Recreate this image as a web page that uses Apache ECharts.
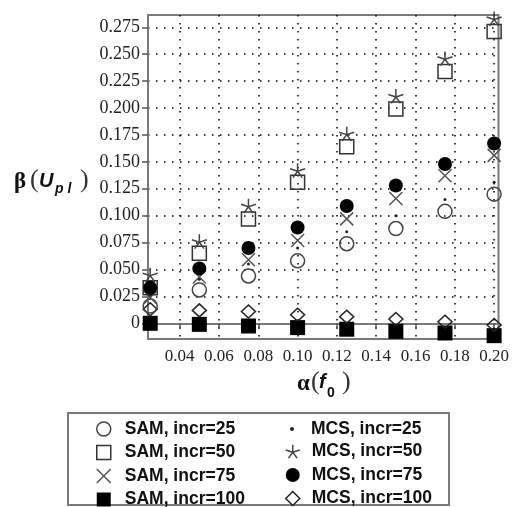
<!DOCTYPE html>
<html><head><meta charset="utf-8">
<script src="https://cdn.jsdelivr.net/npm/echarts@6/dist/echarts.min.js"></script>
<style>html,body{margin:0;padding:0;background:#fff;}#c{width:512px;height:507px;}</style>
</head><body><div id="c"></div>
<script>
const xValues = [0.025, 0.05, 0.075, 0.1, 0.125, 0.15, 0.175, 0.2];
const samIncr25 = [0.016, 0.031, 0.044, 0.058, 0.074, 0.088, 0.104, 0.120];
const samIncr50 = [0.033, 0.065, 0.097, 0.131, 0.164, 0.199, 0.234, 0.271];
const samIncr75 = [0.024, 0.043, 0.059, 0.077, 0.097, 0.116, 0.137, 0.156];
const samIncr100 = [0, -0.001, -0.0025, -0.004, -0.0055, -0.0075, -0.009, -0.0115];
const mcsIncr25 = [0.026, 0.041, 0.055, 0.070, 0.085, 0.100, 0.115, 0.131];
const mcsIncr50 = [0.045, 0.076, 0.109, 0.142, 0.176, 0.211, 0.246, 0.283];
const mcsIncr75 = [0.033, 0.051, 0.070, 0.089, 0.109, 0.128, 0.148, 0.167];
const mcsIncr100 = [0.013, 0.012, 0.011, 0.008, 0.006, 0.004, 0.0015, -0.0015];
const yTicks = [0, 0.025, 0.05, 0.075, 0.1, 0.125, 0.15, 0.175, 0.2, 0.225, 0.25, 0.275];
const xTicks = [0.04, 0.06, 0.08, 0.1, 0.12, 0.14, 0.16, 0.18, 0.2];
const names = {
  s25: 'SAM, incr=25', s50: 'SAM, incr=50', s75: 'SAM, incr=75', s100: 'SAM, incr=100',
  m25: 'MCS, incr=25', m50: 'MCS, incr=50', m75: 'MCS, incr=75', m100: 'MCS, incr=100'
};

const pairs = arr => xValues.map((x, i) => [x, arr[i]]);
const CROSS = 'path://M0,0L10,10M10,0L0,10';
const STAR = 'path://M0,0L0,-10M0,0L9.51,-3.09M0,0L5.88,8.09M0,0L-5.88,8.09M0,0L-9.51,-3.09';
const open = (c) => ({color: 'rgba(0,0,0,0)', borderColor: c, borderWidth: 1.5, opacity: 1});

function sc(name, data, symbol, size, itemStyle, z) {
  return {type: 'scatter', name, data: pairs(data), symbol, symbolSize: size, symbolKeepAspect: true,
    itemStyle: {opacity: 1, ...itemStyle}, z, clip: false, emphasis: {disabled: true}};
}

const chart = echarts.init(document.getElementById('c'), null, {renderer: 'canvas'});
const labelFont = {fontFamily: 'Liberation Serif', color: '#222'};
const legText = {fontFamily: 'Liberation Sans', fontWeight: 'bold', fontSize: 17.5, color: '#111'};
chart.setOption({
  animation: false,
  grid: {left: 148, right: 10, top: 15, bottom: 168, show: true, borderColor: '#7a7a7a', borderWidth: 2, backgroundColor: 'transparent'},
  xAxis: {
    type: 'value', min: 0.02388, max: 0.20222,
    axisLine: {lineStyle: {color: '#7a7a7a', width: 2}},
    axisTick: {show: true, customValues: xTicks, length: 6, lineStyle: {color: '#555', width: 1.5}},
    axisLabel: {customValues: xTicks, margin: 9, fontSize: 17, formatter: v => v.toFixed(2), ...labelFont},
    splitLine: {show: true, lineStyle: {type: [1.5, 6.5], color: '#000', width: 1.5}}
  },
  yAxis: {
    type: 'value', min: -0.01459, max: 0.28643,
    axisLine: {show: true, lineStyle: {color: '#7a7a7a', width: 2}},
    axisTick: {show: true, customValues: yTicks, length: 6, lineStyle: {color: '#555', width: 1.5}},
    axisLabel: {customValues: yTicks, margin: 8, fontSize: 18, formatter: v => (Math.abs(v) < 1e-9 ? '0' : v.toFixed(3)), ...labelFont},
    splitLine: {show: true, lineStyle: {type: [1.5, 6.5], color: '#000', width: 1.5}}
  },
  legend: [
    {orient: 'vertical', left: 91, top: 415, height: 120, itemGap: 5.5, itemWidth: 14, itemHeight: 14,
     textStyle: {...legText, padding: [0, 0, 0, 9]},
     data: [names.s25, names.s50, names.s75, names.s100], itemStyle: {borderWidth: 1.5}, selectedMode: false},
    {orient: 'vertical', left: 280, top: 437.5, height: 120, itemGap: 5.5, itemWidth: 14, itemHeight: 14,
     textStyle: {...legText, padding: [0, 0, 0, 7]},
     data: [names.m50, names.m75, names.m100], itemStyle: {borderWidth: 1.5}, selectedMode: false},
    {orient: 'vertical', left: 285, top: 415, height: 60, itemWidth: 4, itemHeight: 4,
     textStyle: {...legText, padding: [0, 0, 0, 12]},
     data: [names.m25], selectedMode: false}
  ],
  graphic: [
    {type: 'rect', shape: {x: 68, y: 413, width: 381, height: 92}, style: {fill: 'none', stroke: '#7a7a7a', lineWidth: 2}},
    {type: 'text', x: 14, y: 171, style: {text: 'β', font: 'bold 23px "Liberation Serif"', fill: '#111'}},
    {type: 'text', x: 30, y: 167, style: {text: '(', font: '26px "Liberation Serif"', fill: '#333'}},
    {type: 'text', x: 39, y: 171, style: {text: 'U', font: 'italic bold 20px "Liberation Sans"', fill: '#111'}},
    {type: 'text', x: 55, y: 182, style: {text: 'p l', font: 'italic bold 14px "Liberation Sans"', fill: '#111'}},
    {type: 'text', x: 80, y: 167, style: {text: ')', font: '26px "Liberation Serif"', fill: '#333'}},
    {type: 'text', x: 297, y: 373, style: {text: 'α', font: 'bold 23px "Liberation Serif"', fill: '#111'}},
    {type: 'text', x: 311, y: 369, style: {text: '(', font: '26px "Liberation Serif"', fill: '#333'}},
    {type: 'text', x: 319, y: 372, style: {text: 'f', font: 'italic bold 20px "Liberation Sans"', fill: '#111'}},
    {type: 'text', x: 327, y: 386, style: {text: '0', font: 'bold 14px "Liberation Sans"', fill: '#111'}},
    {type: 'text', x: 342, y: 369, style: {text: ')', font: '26px "Liberation Serif"', fill: '#333'}}
  ],
  series: [
    sc(names.s100, samIncr100, 'rect', 15, {color: '#000'}, 2),
    sc(names.m100, mcsIncr100, 'diamond', [14, 13], open('#222'), 3),
    sc(names.s25, samIncr25, 'circle', 14, open('#444'), 3),
    sc(names.m25, mcsIncr25, 'circle', 3, {color: '#222'}, 4),
    sc(names.s75, samIncr75, CROSS, 13, open('#555'), 3),
    sc(names.s50, samIncr50, 'rect', 14, open('#333'), 3),
    sc(names.m50, mcsIncr50, STAR, 15, open('#444'), 4),
    sc(names.m75, mcsIncr75, 'circle', 14, {color: '#000'}, 5)
  ]
});
</script></body></html>
